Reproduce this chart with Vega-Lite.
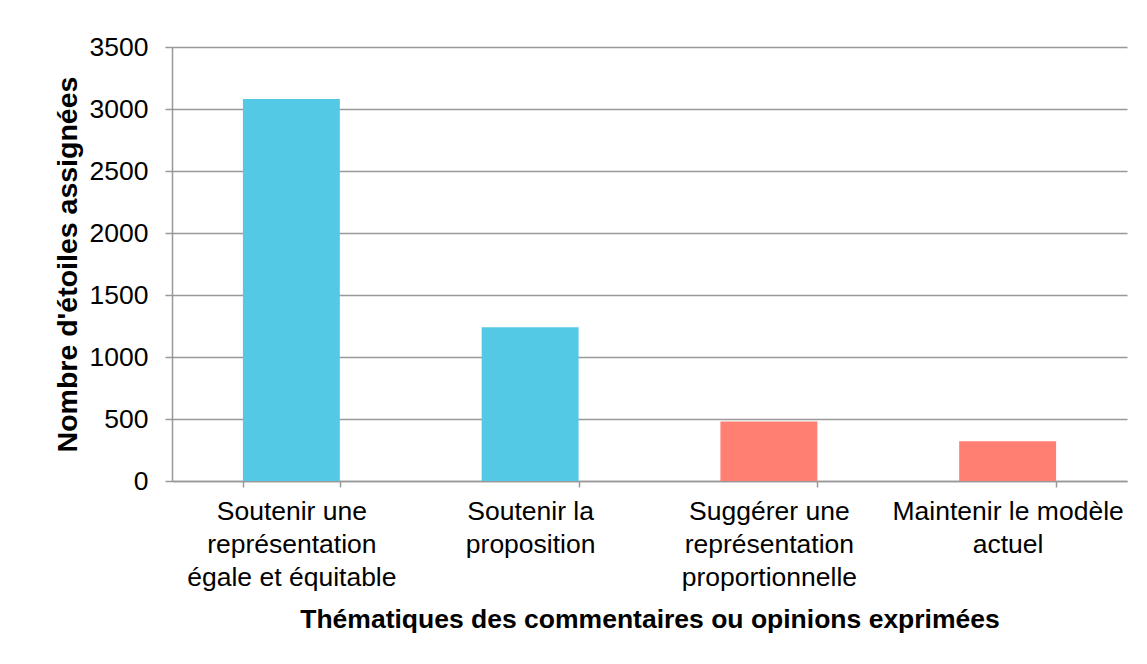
{
  "$schema": "https://vega.github.io/schema/vega-lite/v6.json",
  "autosize": "none",
  "width": 955,
  "height": 434,
  "padding": {"left": 172, "top": 47, "right": 20, "bottom": 183},
  "background": "white",
  "config": {
    "font": "Liberation Sans",
    "view": {"stroke": null}
  },
  "data": {
    "values": [
      {"theme": "Soutenir une représentation égale et équitable", "groupe": "Soutien", "etoiles": 3080},
      {"theme": "Soutenir la proposition", "groupe": "Soutien", "etoiles": 1240},
      {"theme": "Suggérer une représentation proportionnelle", "groupe": "Autre", "etoiles": 480},
      {"theme": "Maintenir le modèle actuel", "groupe": "Autre", "etoiles": 320}
    ]
  },
  "mark": {"type": "bar"},
  "encoding": {
    "x": {
      "field": "theme",
      "type": "nominal",
      "sort": null,
      "scale": {"paddingInner": 0.594, "paddingOuter": 0.297},
      "axis": {
        "title": "Thématiques des commentaires ou opinions exprimées",
        "titleFont": "Liberation Sans",
        "titleFontSize": 26.5,
        "titleFontWeight": "bold",
        "titleColor": "#000000",
        "titleBaseline": "middle",
        "titleY": 138,
        "labelAngle": 0,
        "labelFontSize": 26.5,
        "labelColor": "#000000",
        "labelLineHeight": 33,
        "labelBaseline": "top",
        "labelPadding": 11,
        "labelLimit": 0,
        "labelOverlap": false,
        "tickSize": 6,
        "tickBand": "extent",
        "tickColor": "#999999",
        "tickWidth": 1.5,
        "domainColor": "#999999",
        "domainWidth": 1.5,
        "labelExpr": "datum.value == 'Soutenir une représentation égale et équitable' ? ['Soutenir une', 'représentation', 'égale et équitable'] : datum.value == 'Soutenir la proposition' ? ['Soutenir la', 'proposition'] : datum.value == 'Suggérer une représentation proportionnelle' ? ['Suggérer une', 'représentation', 'proportionnelle'] : datum.value == 'Maintenir le modèle actuel' ? ['Maintenir le modèle', 'actuel'] : ''"
      }
    },
    "y": {
      "field": "etoiles",
      "type": "quantitative",
      "scale": {"domain": [0, 3500]},
      "axis": {
        "title": "Nombre d'étoiles assignées",
        "titleFont": "Liberation Sans",
        "titleFontSize": 28.5,
        "titleFontWeight": "bold",
        "titleColor": "#000000",
        "titleX": -96,
        "titleBaseline": "alphabetic",
        "values": [0, 500, 1000, 1500, 2000, 2500, 3000, 3500],
        "format": "d",
        "labelFontSize": 26.5,
        "labelColor": "#000000",
        "labelPadding": 17,
        "tickSize": 7,
        "tickColor": "#999999",
        "tickWidth": 1.5,
        "domainColor": "#999999",
        "domainWidth": 1.5,
        "grid": true,
        "gridColor": "#999999",
        "gridWidth": 1.5
      }
    },
    "color": {
      "field": "groupe",
      "type": "nominal",
      "scale": {"domain": ["Soutien", "Autre"], "range": ["#53C9E5", "#FF7F73"]},
      "legend": null
    }
  }
}
